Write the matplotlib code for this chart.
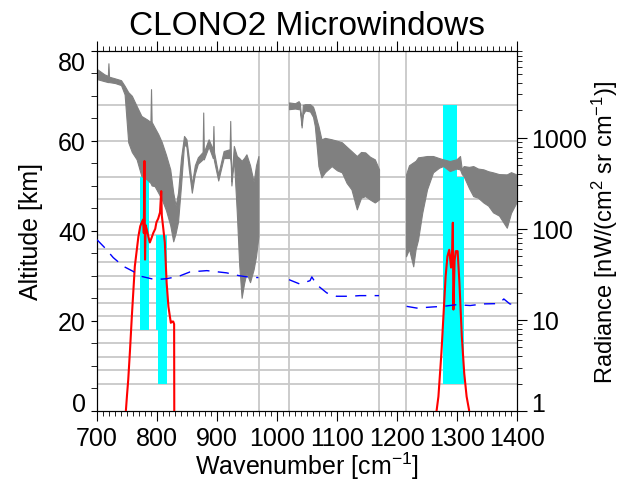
import numpy as np
import matplotlib
matplotlib.use("Agg")
import matplotlib.pyplot as plt
from matplotlib.patches import Rectangle
from matplotlib.ticker import MultipleLocator, FixedLocator, FixedFormatter, LogLocator, NullFormatter

plt.rcParams['font.family'] = 'Liberation Sans'
plt.rcParams['mathtext.fontset'] = 'custom'
plt.rcParams['mathtext.rm'] = 'Liberation Sans'
plt.rcParams['mathtext.it'] = 'Liberation Sans:italic'

# tangent altitudes (grid) and band edges
tangent_alts = [6, 9, 12, 15, 18, 21, 24, 27, 30, 33, 36, 39, 42, 47, 52, 60, 68]
band_edges = [970, 1020, 1170, 1215]

# microwindows: wn start, wn end, altitude bottom, altitude top
mw_start = [772, 798, 802, 1277, 1299.5]
mw_end = [786, 817, 817, 1299.5, 1312]
mw_bottom = [18, 18, 6, 6, 6]
mw_top = [52, 39, 18, 68, 52]

# background spectrum envelope (radiance, nW/(cm2 sr cm-1))
wn_a = [700, 712, 718, 719, 720, 730, 740, 746, 752, 758, 766, 774, 783, 789, 790, 791,
        796, 802, 808, 815, 822, 827, 831, 835, 840, 845, 849, 853, 858, 863, 868, 876,
        877, 878, 886, 893, 894, 895, 902, 911, 921, 922, 923, 924, 928, 933, 937, 941,
        945, 949, 955, 961, 965, 969]
hi_a = [5700, 5000, 4800, 6600, 4700, 4500, 4300, 3730, 3180, 2900, 2240, 1740, 1600, 1500, 3430, 1500,
        1300, 1100, 895, 650, 451, 251, 180, 250, 600, 1050, 965, 600, 308, 500, 611, 700,
        1900, 700, 965, 750, 1350, 700, 397, 717, 750, 1535, 700, 335, 815, 632, 600, 560,
        600, 660, 500, 330, 500, 632]
lo_a = [4420, 4200, 4100, 4100, 4100, 4000, 3800, 3000, 895, 700, 581, 380, 350, 320, 310, 300,
        295, 250, 211, 160, 110, 73, 90, 120, 300, 850, 800, 450, 250, 400, 520, 580,
        600, 580, 800, 600, 620, 560, 340, 600, 600, 600, 500, 300, 600, 150, 40, 17.5,
        25, 33, 26, 36, 50, 83]

wn_ab = [1020, 1030, 1036, 1038, 1041, 1043, 1047, 1055, 1060, 1063, 1067, 1069, 1074, 1080,
         1091, 1100, 1108, 1116, 1124, 1133, 1140, 1147, 1155, 1163, 1170]
hi_ab = [2450, 2400, 2530, 2400, 1400, 2300, 2345, 2345, 2200, 1915, 1500, 1352, 965, 1000,
         965, 930, 895, 800, 717, 632, 700, 693, 620, 581, 451]
lo_ab = [2065, 2100, 2065, 2065, 1300, 1800, 2000, 1950, 1700, 1352, 700, 490, 368, 420,
         490, 440, 418, 320, 272, 164, 220, 229, 210, 195, 211]

wn_b = [1215, 1220, 1227, 1231, 1235, 1242, 1250, 1260, 1270, 1277, 1288, 1299, 1305, 1308,
        1311, 1320, 1327, 1335, 1344, 1352, 1360, 1370, 1383, 1390, 1399]
hi_b = [397, 500, 538, 560, 611, 620, 632, 632, 600, 581, 557, 581, 632, 450,
        490, 480, 490, 460, 451, 430, 418, 400, 397, 420, 397]
lo_b = [50, 60, 38.8, 60, 76, 150, 272, 418, 470, 490, 432, 460, 450, 400,
        380, 280, 229, 220, 195, 180, 152, 140, 103, 150, 195]

# CLONO2 signal
wn_r1 = [747, 750, 752, 755, 758, 763, 769, 772, 775, 777, 778, 779, 780, 781, 783, 786,
         788, 791, 794, 797, 799, 802, 805, 806, 807, 808, 810, 813, 816, 819, 823, 825,
         827, 828.5, 829]
rad_r1 = [0.8, 1.5, 2.2, 4.7, 10.9, 38.8, 83, 107, 120, 127, 90, 557, 46, 110, 98, 80,
          71, 80, 91, 100, 118, 130, 152, 200, 260, 140, 107, 71, 25.7, 14, 9.3, 9.6,
          9.6, 9.0, 0.1]
wn_r2 = [1265, 1269, 1274, 1277, 1281, 1284, 1287, 1290, 1292, 1293, 1294, 1296, 1298, 1301,
         1304, 1308, 1312, 1316, 1320, 1321]
rad_r2 = [0.9, 1.44, 4.35, 10, 30, 50, 59, 37.6, 60, 117, 13, 45, 57, 57,
          25.7, 6.6, 2.6, 1.44, 1.03, 0.9]

# NESR
wn_na = [700, 713, 727, 744, 760, 774, 797, 816, 836, 855, 883, 916, 936, 955, 969]
nesr_a = [76, 62, 48.4, 38.8, 34.2, 30.1, 27.7, 28.4, 30.1, 33.7, 34.8, 32.9, 30.7, 29.4, 29.2]
wn_nab = [1020, 1038, 1055, 1058, 1066, 1083, 1099, 1122, 1138, 1170]
nesr_ab = [27.7, 24.8, 27, 29.7, 24.4, 19.8, 18.2, 18.2, 18.5, 18.5]
wn_nb = [1216, 1233, 1260, 1277, 1299, 1322, 1344, 1366, 1374, 1378, 1388, 1399]
nesr_b = [14.1, 13.5, 13.9, 14.1, 14.7, 14.4, 15, 15.1, 16, 17, 15, 14.7]

GRID = '#c8c8c8'

fig = plt.figure(figsize=(6.2, 4.81), dpi=100)
ax = fig.add_axes([0.1565, 0.1435, 0.6774, 0.7484])
ax.set_xlim(700, 1400)
ax.set_ylim(0, 80)

for a in tangent_alts:
    ax.axhline(a, color=GRID, lw=1.3, zorder=0)
for w in band_edges:
    ax.axvline(w, color=GRID, lw=1.3, zorder=0)

for s, e, b, t in zip(mw_start, mw_end, mw_bottom, mw_top):
    ax.add_patch(Rectangle((s, b), e - s, t - b, facecolor='#00ffff', edgecolor='none', zorder=1))

ax2 = ax.twinx()
ax2.set_yscale('log')
ax2.set_ylim(1, 9000)

for w, lo, hi in [(wn_a, lo_a, hi_a), (wn_ab, lo_ab, hi_ab), (wn_b, lo_b, hi_b)]:
    ax2.fill_between(w, lo, hi, color='#808080', lw=0.8, zorder=2)

ax2.plot(wn_r1, rad_r1, color='red', lw=1.5, zorder=3)
ax2.plot(wn_r2, rad_r2, color='red', lw=1.5, zorder=3)

for w, n in [(wn_na, nesr_a), (wn_nab, nesr_ab), (wn_nb, nesr_b)]:
    ax2.plot(w, n, color='blue', lw=1.0, ls=(0, (8, 6)), zorder=3)

# axes styling
ax.xaxis.set_major_locator(MultipleLocator(100))
ax.xaxis.set_minor_locator(MultipleLocator(10))
ax.yaxis.set_major_locator(MultipleLocator(20))
ax.yaxis.set_minor_locator(MultipleLocator(5))
ax.tick_params(axis='x', which='both', top=True, direction='out', labelsize=18)
ax.tick_params(axis='x', which='major', length=7)
ax.tick_params(axis='x', which='minor', length=3.5)
ax.tick_params(axis='y', which='both', length=4.5, labelsize=18)

ax2.yaxis.set_major_locator(FixedLocator([1, 10, 100, 1000]))
ax2.yaxis.set_major_formatter(FixedFormatter(['1', '10', '100', '1000']))
ax2.yaxis.set_minor_locator(LogLocator(base=10, subs=np.arange(2, 10)))
ax2.yaxis.set_minor_formatter(NullFormatter())
ax2.tick_params(axis='y', which='major', length=7, labelsize=18)
ax2.tick_params(axis='y', which='minor', length=3.5)

for lbl in ax.get_yticklabels():
    if lbl.get_text() == '0':
        lbl.set_va('baseline')
    elif lbl.get_text() == '80':
        lbl.set_va('top')
for lbl in ax2.get_yticklabels():
    if lbl.get_text() == '1':
        lbl.set_va('baseline')

ax.set_xlabel(r'Wavenumber [cm$^{-1}$]', fontsize=18, labelpad=0)
ax.set_ylabel('Altitude [km]', fontsize=18, labelpad=11)
ax2.set_ylabel(r'Radiance [nW/(cm$^2$ sr cm$^{-1}$)]', fontsize=17, labelpad=2)
ax.set_title('CLONO2 Microwindows', fontsize=24, pad=12)

fig.savefig('out.png', dpi=100)
